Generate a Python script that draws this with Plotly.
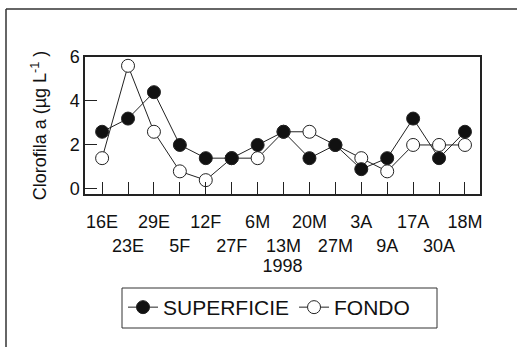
import plotly.graph_objects as go

# Sampling dates (1998) and chlorophyll a concentration (µg/L)
fechas = ["16E", "23E", "29E", "5F", "12F", "27F", "6M", "13M",
          "20M", "27M", "3A", "9A", "17A", "30A", "18M"]
superficie = [2.6, 3.2, 4.4, 2.0, 1.4, 1.4, 2.0, 2.6, 1.4, 2.0, 0.9, 1.4, 3.2, 1.4, 2.6]
fondo = [1.4, 5.6, 2.6, 0.8, 0.4, 1.4, 1.4, 2.6, 2.6, 2.0, 1.4, 0.8, 2.0, 2.0, 2.0]
y_ticks = [0, 2, 4, 6]

# Alternate tick labels between two rows
tick_text = [f if i % 2 == 0 else "<br>" + f for i, f in enumerate(fechas)]

FONT = "Liberation Sans, Arial, sans-serif"
INK = "#222222"

fig = go.Figure()
fig.add_trace(go.Scatter(
    x=fechas, y=fondo, name="FONDO", mode="lines+markers",
    line=dict(color=INK, width=1),
    marker=dict(symbol="circle", size=13, color="white",
                line=dict(color=INK, width=1)),
))
fig.add_trace(go.Scatter(
    x=fechas, y=superficie, name="SUPERFICIE", mode="lines+markers",
    line=dict(color=INK, width=1),
    marker=dict(symbol="circle", size=13, color="#111111",
                line=dict(color=INK, width=1)),
))

# page frame (top and left edges) and legend box
px_l, px_r, px_t, px_b = 85, 480, 57, 194
def px_to_paper_x(px):
    return (px - px_l) / (px_r - px_l)
def px_to_paper_y(py):
    return (px_b - py) / (px_b - px_t)

shapes = [
    dict(type="line", xref="paper", yref="paper",
         x0=px_to_paper_x(6), x1=px_to_paper_x(520),
         y0=px_to_paper_y(9), y1=px_to_paper_y(9),
         line=dict(color="#333333", width=1.5)),
    dict(type="line", xref="paper", yref="paper",
         x0=px_to_paper_x(6), x1=px_to_paper_x(6),
         y0=px_to_paper_y(9), y1=px_to_paper_y(350),
         line=dict(color="#333333", width=1.5)),
    dict(type="rect", xref="paper", yref="paper",
         x0=px_to_paper_x(122), x1=px_to_paper_x(437),
         y0=px_to_paper_y(288), y1=px_to_paper_y(328),
         line=dict(color="#333333", width=1)),
]

fig.update_layout(
    width=517, height=347,
    margin=dict(l=px_l, r=517 - px_r, t=px_t, b=347 - px_b, pad=0,
                autoexpand=False),
    paper_bgcolor="white", plot_bgcolor="white",
    font=dict(family=FONT, size=18, color="#111111"),
    showlegend=True,
    legend=dict(
        orientation="h", traceorder="reversed",
        x=px_to_paper_x(123), xanchor="left",
        y=px_to_paper_y(287), yanchor="top",
        bgcolor="rgba(0,0,0,0)", borderwidth=0,
        font=dict(family=FONT, size=21, color="#111111"),
    ),
    shapes=shapes,
)

fig.update_xaxes(
    type="category", range=[-0.66, 14.58],
    tickmode="array", tickvals=fechas, ticktext=tick_text, tickangle=0,
    ticks="inside", ticklen=12, tickwidth=1, tickcolor=INK,
    showline=True, linecolor=INK, linewidth=1.5, mirror=True,
    showgrid=False, zeroline=False,
    ticklabelstandoff=11,
    tickfont=dict(family=FONT, size=18),
    title=dict(text="1998", font=dict(family=FONT, size=18), standoff=4),
)
fig.update_yaxes(
    range=[-0.23, 6], tickmode="array", tickvals=y_ticks,
    ticks="inside", ticklen=12, tickwidth=1, tickcolor=INK,
    showline=True, linecolor=INK, linewidth=1.5, mirror=True,
    showgrid=False, zeroline=False,
    tickfont=dict(family=FONT, size=18),
    title=dict(text="Clorofila a (µg L<sup>-1</sup> )",
               font=dict(family=FONT, size=18), standoff=18),
)

fig.write_html("out.html")
